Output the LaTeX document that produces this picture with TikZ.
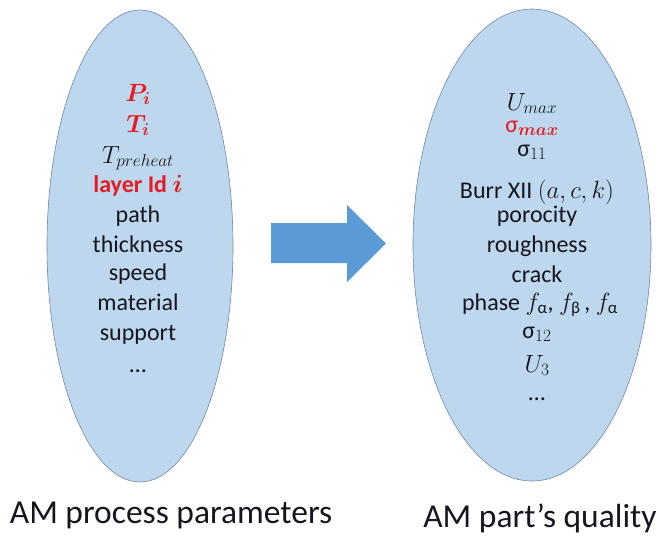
\documentclass[tikz,border=0pt]{standalone}
\usepackage{amsmath}
\usepackage{amsbsy}
\usepackage{fontspec}
\setmainfont{Carlito}
\usetikzlibrary{shapes.geometric}
\definecolor{ellfill}{RGB}{189,215,238}
\definecolor{ellline}{RGB}{115,135,165}
\definecolor{arrfill}{RGB}{91,155,213}
\definecolor{hotred}{RGB}{228,28,36}
\definecolor{inkc}{RGB}{22,22,32}
\tikzset{
  oval/.style={ellipse, fill=ellfill, draw=ellline, line width=0.6pt, inner sep=0pt},
  ltext/.style={text=inkc, font=\fontsize{24}{28}\selectfont, inner sep=0pt, anchor=base},
  hottext/.style={ltext, text=hotred},
  captext/.style={text=inkc, font=\fontsize{33.5}{38}\selectfont, inner sep=0pt, anchor=base},
  blockarrow/.style={fill=arrfill}
}
\begin{document}
\begin{tikzpicture}[x=1pt,y=-1pt]
\useasboundingbox (0,0) rectangle (657,536);
\node[oval, minimum width=186pt, minimum height=472pt] (L) at (140,246) {};
\node[oval, minimum width=238pt, minimum height=472pt] (R) at (532,245) {};
\node[hottext] (l1) at (138,101) {$\boldsymbol{P_i}$};
\node[hottext] (l2) at (138,132) {$\boldsymbol{T_i}$};
\node[ltext] (l3) at (138,163) {$T_{preheat}$};
\node[hottext] (l4) at (138,192) {\bfseries layer Id $\boldsymbol{i}$};
\node[ltext] (l5) at (138,222) {path};
\node[ltext] (l6) at (138,252) {thickness};
\node[ltext] (l7) at (138,280) {speed};
\node[ltext] (l8) at (138,310) {material};
\node[ltext] (l9) at (138,340) {support};
\node[ltext] (l10) at (138,372) {\dots};
\node[ltext] (r1) at (532,110) {$U_{max}$};
\node[hottext] (r2) at (532,132) {σ$_{\boldsymbol{max}}$};
\node[ltext] (r3) at (532,156) {σ$_{11}$};
\node[ltext] (r4) at (537,198) {Burr XII $(a,c,k)$};
\node[ltext] (r5) at (537,222) {porocity};
\node[ltext] (r6) at (537,252) {roughness};
\node[ltext] (r7) at (537,282) {crack};
\node[ltext] (r8) at (540,310) {phase $f_{\text{α}}$, $f_{\text{β}}$\,, $f_{\text{α}}$};
\node[ltext] (r9) at (537,338) {σ$_{12}$};
\node[ltext] (r10) at (537,372) {$U_3$};
\node[ltext] (r11) at (537,400) {\dots};
\node[captext] (cl) at (171,523) {AM process parameters};
\node[captext] (cr) at (540,527) {AM part’s quality};
\fill[blockarrow] (271,223) -- (347,223) -- (347,205) -- (386,243.5) -- (347,282) -- (347,263) -- (271,263) -- cycle;
\end{tikzpicture}
\end{document}
